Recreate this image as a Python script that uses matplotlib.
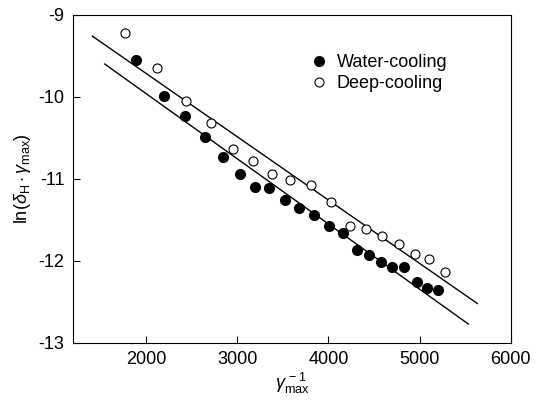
import matplotlib
matplotlib.use('Agg')
import matplotlib.pyplot as plt
import numpy as np

plt.rc('font', family='Liberation Sans', size=13)
plt.rc('mathtext', fontset='custom', rm='Liberation Sans', it='Liberation Sans:italic')
plt.rc('axes', unicode_minus=False)

# Water-cooling (filled)
wx = [1890, 2201, 2431, 2652, 2849, 3036, 3198, 3347, 3523, 3677, 3842, 4007,
      4157, 4311, 4446, 4575, 4699, 4831, 4967, 5080, 5198]
wy = [-9.55, -9.99, -10.23, -10.49, -10.73, -10.94, -11.10, -11.11, -11.26, -11.35,
      -11.44, -11.57, -11.66, -11.87, -11.93, -12.02, -12.08, -12.08, -12.26, -12.33, -12.35]
# Deep-cooling (open)
dx = [1773, 2124, 2440, 2714, 2952, 3172, 3380, 3585, 3809, 4033, 4242, 4410,
      4593, 4776, 4952, 5105, 5281]
dy = [-9.22, -9.65, -10.05, -10.32, -10.63, -10.78, -10.94, -11.02, -11.08, -11.28,
      -11.58, -11.61, -11.70, -11.79, -11.92, -11.98, -12.13]
# fitted lines (end points)
fit_w_x = [1549, 5534]
fit_w_y = [-9.60, -12.77]
fit_d_x = [1414, 5633]
fit_d_y = [-9.26, -12.52]

fig = plt.figure(figsize=(5.36, 4.01), dpi=100)
ax = fig.add_axes([0.136, 0.145, 0.817, 0.818])

ax.plot(fit_d_x, fit_d_y, 'k-', lw=1)
ax.plot(fit_w_x, fit_w_y, 'k-', lw=1)
ax.plot(wx, wy, 'ko', ms=7, label='Water-cooling')
ax.plot(dx, dy, 'o', mfc='white', mec='k', mew=0.8, ms=6.5, label='Deep-cooling')

ax.set_xlim(1200, 6000)
ax.set_ylim(-13, -9)
ax.set_xticks([2000, 3000, 4000, 5000, 6000])
ax.set_yticks([-13, -12, -11, -10, -9])
ax.tick_params(direction='in', length=5, width=0.8, pad=6)
for s in ax.spines.values():
    s.set_linewidth(0.8)

ax.set_xlabel(r'$\gamma^{\,-1}_{\mathrm{max}}$', labelpad=2)
ax.set_ylabel(r'ln($\delta_{\mathrm{H}}\cdot\gamma_{\mathrm{max}}$)', labelpad=4)

ax.legend(loc='upper left', bbox_to_anchor=(0.52, 0.903), frameon=False,
          handletextpad=0.4, labelspacing=0.25, borderaxespad=0, handlelength=1.2)

plt.savefig('out.png', dpi=100)
